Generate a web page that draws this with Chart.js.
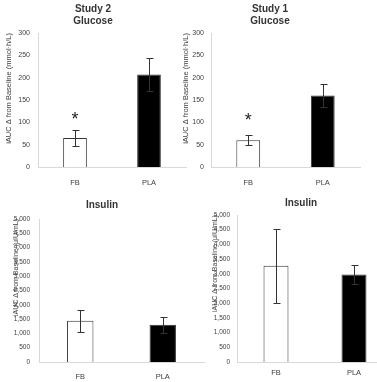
<!DOCTYPE html>
<html>
<head>
<meta charset="utf-8">
<script src="https://cdn.jsdelivr.net/npm/chart.js@4.4.0/dist/chart.umd.min.js"></script>
<style>
  html, body { margin: 0; padding: 0; background: #fff; width: 377px; height: 382px; overflow: hidden; }
  canvas { position: absolute; }
</style>
</head>
<body>
<canvas id="g2" width="196" height="190" style="left:0;top:0"></canvas>
<canvas id="g1" width="186" height="190" style="left:180px;top:0"></canvas>
<canvas id="i2" width="214" height="192" style="left:0;top:190px"></canvas>
<canvas id="i1" width="184" height="192" style="left:209px;top:190px"></canvas>
<script>
// categories
var categories = ['FB', 'PLA'];

// Study 2 (left column)
var study2Glucose = [65, 207];
var study2GlucoseErr = [17, 37];
var study2Insulin = [1440, 1300];
var study2InsulinErr = [385, 280];

// Study 1 (right column)
var study1Glucose = [60, 160];
var study1GlucoseErr = [11, 26];
var study1Insulin = [3270, 2980];
var study1InsulinErr = [1270, 320];

// significance marks (value where the * sits, FB only)
var study2GlucoseStar = 114;
var study1GlucoseStar = 112;

var glucoseTicks = [0, 300, 50];
var insulinTicks = [0, 5000, 500];

var glucoseLabel = 'iAUC \u0394 from Baseline (mmol\u00b7h/L)';
var insulinLabel = 'iAUC \u0394 from Baseline (\u03bcIU/mL)';

var FONT = "'Liberation Sans', Arial, sans-serif";

var errorBarPlugin = {
  id: 'errorBars',
  afterDatasetsDraw: function(chart, args, opts) {
    var ctx = chart.ctx;
    var xs = chart.scales.x, ys = chart.scales.y;
    var vals = chart.data.datasets[0].data;
    var errs = opts.errors || [];
    ctx.save();
    ctx.strokeStyle = '#333';
    ctx.lineWidth = 1;
    vals.forEach(function(v, i) {
      var x = Math.round(xs.getPixelForValue(i)) + 0.5;
      var top = Math.round(ys.getPixelForValue(v + errs[i])) + 0.5;
      var bot = Math.round(ys.getPixelForValue(v - errs[i])) + 0.5;
      ctx.beginPath();
      ctx.moveTo(x, top); ctx.lineTo(x, bot);
      ctx.moveTo(x - 3, top); ctx.lineTo(x + 4, top);
      ctx.moveTo(x - 3, bot); ctx.lineTo(x + 4, bot);
      ctx.stroke();
    });
    if (opts.star != null) {
      ctx.fillStyle = '#222';
      ctx.font = '18px ' + FONT;
      ctx.textAlign = 'center';
      ctx.textBaseline = 'middle';
      ctx.fillText('*', xs.getPixelForValue(0), ys.getPixelForValue(opts.star) + 4);
    }
    ctx.restore();
  }
};

function makePanel(id, title, values, errors, star, ticks, yLabel, lay) {
  new Chart(document.getElementById(id), {
    type: 'bar',
    data: {
      labels: categories,
      datasets: [{
        data: values,
        backgroundColor: ['#ffffff', '#000000'],
        borderColor: '#333',
        borderWidth: 1,
        barPercentage: 1,
        categoryPercentage: 0.32
      }]
    },
    plugins: [errorBarPlugin],
    options: {
      responsive: false,
      animation: false,
      layout: { padding: { left: 0, right: lay.padRight, top: 0, bottom: 0 } },
      plugins: {
        legend: { display: false },
        tooltip: { enabled: false },
        title: {
          display: true,
          text: title,
          color: '#333',
          font: { family: FONT, size: 10, weight: 'bold' },
          padding: { top: lay.titleTop, bottom: lay.titleBottom }
        },
        errorBars: { errors: errors, star: star }
      },
      scales: {
        x: {
          grid: { display: false, drawTicks: false },
          border: { display: true, color: '#d9d9d9' },
          ticks: { color: '#404040', font: { family: FONT, size: 7.5 }, padding: lay.xPad },
          afterFit: function(s) { s.height = lay.xHeight; }
        },
        y: {
          min: ticks[0], max: ticks[1],
          grid: { display: false, drawTicks: false },
          border: { display: true, color: '#d9d9d9' },
          ticks: {
            stepSize: ticks[2],
            color: '#404040',
            font: { family: FONT, size: lay.tickSize },
            padding: lay.yPad,
            callback: function(v) { return v.toLocaleString('en-US'); }
          },
          title: {
            display: true,
            text: yLabel,
            align: 'end',
            color: '#404040',
            font: { family: FONT, size: lay.titleSize },
            padding: { top: lay.yTitlePad, bottom: 0 }
          },
          afterFit: function(s) { s.width = lay.yWidth; }
        }
      }
    }
  });
}

makePanel('g2', ['Study 2', 'Glucose'], study2Glucose, study2GlucoseErr, study2GlucoseStar, glucoseTicks, glucoseLabel,
  { padRight: 10, titleTop: 3, titleBottom: 6, xHeight: 23, xPad: 11, yWidth: 38, yPad: 8, tickSize: 7, titleSize: 7.5, yTitlePad: 4 });
makePanel('g1', ['Study 1', 'Glucose'], study1Glucose, study1GlucoseErr, study1GlucoseStar, glucoseTicks, glucoseLabel,
  { padRight: 6, titleTop: 3, titleBottom: 6, xHeight: 23, xPad: 11, yWidth: 31, yPad: 7, tickSize: 7, titleSize: 7.5, yTitlePad: 1 });
makePanel('i2', 'Insulin', study2Insulin, study2InsulinErr, null, insulinTicks, insulinLabel,
  { padRight: 10, titleTop: 9, titleBottom: 8, xHeight: 20, xPad: 10, yWidth: 39, yPad: 9, tickSize: 6.5, titleSize: 7, yTitlePad: 12 });
makePanel('i1', 'Insulin', study1Insulin, study1InsulinErr, null, insulinTicks, insulinLabel,
  { padRight: 0, titleTop: 7, titleBottom: 6, xHeight: 20, xPad: 6, yWidth: 28, yPad: 7, tickSize: 6.5, titleSize: 7, yTitlePad: 2 });
</script>
</body>
</html>
